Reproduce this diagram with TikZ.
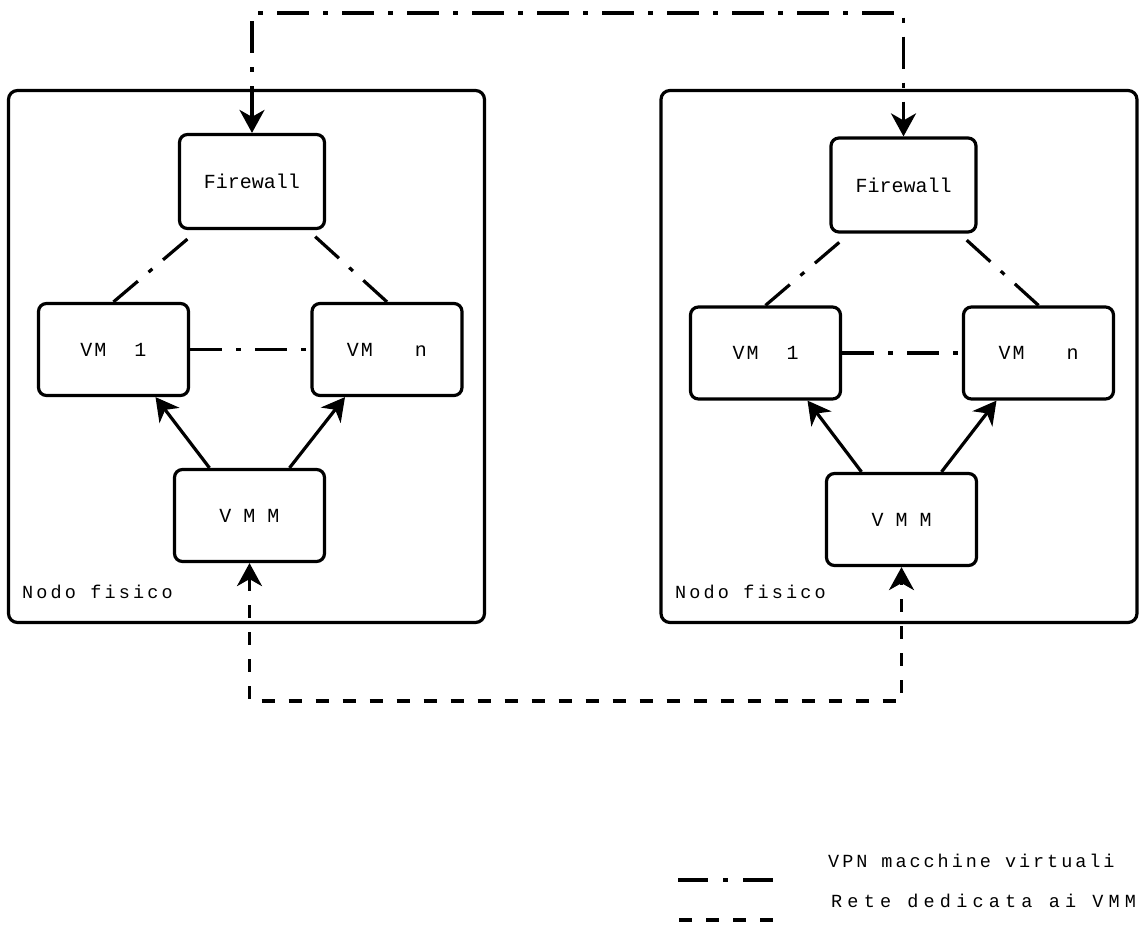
\documentclass[tikz,border=0pt]{standalone}
\usepackage{fontspec}
\usetikzlibrary{arrows.meta,calc}
\newfontfamily\monoA{Liberation Mono}
\newfontfamily\monoB[LetterSpace=10]{Liberation Mono}
\newfontfamily\monoL[LetterSpace=17]{Liberation Mono}
\newfontfamily\monoV[LetterSpace=16]{Liberation Mono}
\newfontfamily\monoC[LetterSpace=28]{Liberation Mono}
\begin{document}
\begin{tikzpicture}[x=1pt,y=-1pt,
  >={Stealth[length=23pt,width=25pt,inset=7pt]},
  outerbox/.style={draw, line width=3.2pt, rounded corners=9pt, minimum width=476pt, minimum height=532pt, inner sep=0pt},
  compbox/.style={draw, line width=3.2pt, rounded corners=8pt, minimum width=150pt, minimum height=92pt, inner sep=0pt, font=\monoA\fontsize{20}{22}\selectfont},
  vmbox/.style={compbox, font=\monoB\fontsize{20}{22}\selectfont},
  lbl/.style={anchor=west, inner sep=0pt, font=\monoL\fontsize{18.5}{20}\selectfont},
  vpn/.style={line width=3.2pt, dash pattern=on 32pt off 14pt on 5pt off 14pt},
  vmmnet/.style={line width=3.2pt, dash pattern=on 13pt off 14pt},
  solidarr/.style={line width=3.2pt}
]
\useasboundingbox (0,0) rectangle (1146,929);

% outer physical nodes
\node[outerbox] (lout) at (246.5,356.5) {};
\node[outerbox] (rout) at (899,356.5) {};
\node[lbl] (lnodo) at (22,592) {Nodo fisico};
\node[lbl] (rnodo) at (675,592) {Nodo fisico};

% left components
\node[compbox, minimum width=145pt, minimum height=94pt] (lfw) at (252,181.5) {Firewall};
\node[vmbox] (lvm1) at (113.5,349.5) {VM\ \ 1};
\node[vmbox] (lvmn) at (387,349.5) {VM\ \ \ n};
\node[compbox] (lvmm) at (249.5,515.5) {V M M};

% right components
\node[compbox, minimum width=145pt, minimum height=94pt] (rfw) at (903.5,185) {Firewall};
\node[vmbox] (rvm1) at (765.5,353) {VM\ \ 1};
\node[vmbox] (rvmn) at (1038.5,353) {VM\ \ \ n};
\node[compbox] (rvmm) at (901.5,519.5) {V M M};

% internal VPN links
\draw[vpn] (lvm1.north) -- ($(lfw.south)+(-54,0)$);
\draw[vpn] (lvmn.north) -- ($(lfw.south)+(56,0)$);
\draw[vpn] (lvm1.east) -- (lvmn.west);
\draw[vpn] (rvm1.north) -- ($(rfw.south)+(-54,0)$);
\draw[vpn] (rvmn.north) -- ($(rfw.south)+(56,0)$);
\draw[vpn] (rvm1.east) -- (rvmn.west);

% VMM to VMs
\draw[solidarr, ->] ($(lvmm.north)+(-40,0)$) -- ($(lvm1.south)+(42,0)$);
\draw[solidarr, ->] ($(lvmm.north)+(40,0)$) -- ($(lvmn.south)+(-42,0)$);
\draw[solidarr, ->] ($(rvmm.north)+(-40,0)$) -- ($(rvm1.south)+(42,0)$);
\draw[solidarr, ->] ($(rvmm.north)+(40,0)$) -- ($(rvmn.south)+(-42,0)$);

% VPN between firewalls
\coordinate (topmid) at (580,13);
\draw[vpn, <->] (lfw.north) |- (topmid) -| (rfw.north);

% dedicated VMM network
\coordinate (botmid) at (575,701);
\draw[vmmnet, <->] (lvmm.south) |- (botmid) -| (rvmm.south);

% legend
\coordinate (la1) at (678,880);
\coordinate (la2) at (777,880);
\coordinate (lb1) at (679,920);
\coordinate (lb2) at (773,920);
\draw[vpn, dash pattern=on 30pt off 15pt on 5pt off 15pt] (la1) -- (la2);
\draw[vmmnet] (lb1) -- (lb2);
\node[lbl, font=\monoV\fontsize{18.5}{20}\selectfont] (legvpn) at (828,861) {VPN macchine virtuali};
\node[lbl, font=\monoC\fontsize{18.5}{20}\selectfont] (legvmm) at (831,901) {Rete dedicata ai VMM};
\end{tikzpicture}
\end{document}
